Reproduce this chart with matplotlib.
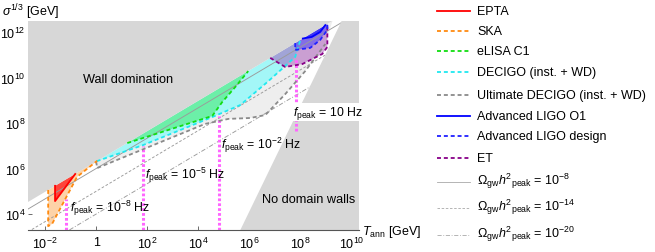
import numpy as np
import matplotlib
matplotlib.use('Agg')
import matplotlib.pyplot as plt
from matplotlib.patches import Polygon

plt.rcParams['font.family'] = ['Liberation Sans', 'DejaVu Sans']
plt.rcParams['mathtext.fontset'] = 'custom'
plt.rcParams['mathtext.rm'] = 'Liberation Sans'
plt.rcParams['mathtext.it'] = 'Liberation Sans:italic'
plt.rcParams['mathtext.bf'] = 'Liberation Sans:bold'

# all values are log10: T_ann [GeV] and sigma^(1/3) [GeV]
x_lim = [-2.67, 10.3]
y_lim = [3.3, 12.48]
wall_slope = 2 / 3
wall_c = 6.31
nodw_t = [5.65, 9.62]          # no-domain-wall edge at bottom and top of plot

epta_t = [-1.61, -1.61, -0.82]
epta_s = [5.24, 4.57, 5.76]
ska_t = [-1.88, -1.88, -1.73, -0.75, 0.04]
ska_s = [5.06, 3.47, 3.56, 5.63, 6.34]
elisa_t = [1.22, 4.55, 4.94, 5.45, 5.96]
elisa_s = [7.12, 8.31, 8.92, 9.58, 10.28]
decigo_t = [0.02, 1.84, 4.55, 5.65, 6.71, 7.80, 8.00]
decigo_s = [6.32, 7.03, 8.26, 8.79, 9.80, 10.90, 11.64]
udecigo_t = [0.0, 0.04, 4.27, 5.18, 6.04, 6.63, 7.41, 8.20, 8.98, 9.26]
udecigo_s = [6.31, 6.02, 7.96, 8.18, 8.22, 8.35, 9.27, 10.29, 11.47, 12.48]
ligo_o1_t = [8.10, 8.45, 8.78, 8.98]
ligo_o1_s = [11.71, 11.78, 12.00, 12.30]
ligo_des_t = [7.80, 7.80, 8.39, 8.78, 9.06, 9.06]
ligo_des_s = [11.51, 11.21, 11.30, 11.65, 12.09, 12.35]
et_t = [6.82, 7.41, 8.08, 8.86, 9.06, 9.06]
et_s = [10.86, 10.46, 10.59, 11.03, 11.34, 12.35]

omega_c = [6.0, 5.0, 4.0]      # lines of constant Omega h^2 (slope 2/3)

fpeak_t = [-1.18, 1.82, 4.82, 7.82]
fpeak_lo = [3.3, 3.3, 3.3, 7.65]
fpeak_hi = [4.66, 6.99, 8.31, 10.85]
fpeak_labels = [r'$f_{\rm peak}$ = 10$^{-8}$ Hz', r'$f_{\rm peak}$ = 10$^{-5}$ Hz',
                r'$f_{\rm peak}$ = 10$^{-2}$ Hz', r'$f_{\rm peak}$ = 10 Hz']
fpeak_text_t = [-1.04, 1.92, 4.90, 7.73]
fpeak_text_s = [4.31, 5.76, 7.08, 8.48]

xticks = [-2, 0, 2, 4, 6, 8, 10]
yticks = [4, 6, 8, 10, 12]

legend_labels = ['EPTA', 'SKA', 'eLISA C1', 'DECIGO (inst. + WD)',
                 'Ultimate DECIGO (inst. + WD)', 'Advanced LIGO O1',
                 'Advanced LIGO design', 'ET',
                 r'$\Omega_{\rm gw}h^2{}_{\rm peak}$ = 10$^{-8}$',
                 r'$\Omega_{\rm gw}h^2{}_{\rm peak}$ = 10$^{-14}$',
                 r'$\Omega_{\rm gw}h^2{}_{\rm peak}$ = 10$^{-20}$']

dash = (0, (2.2, 1.6))
regions = [
    # t, s, fill, alpha, edge, style, points on edge line
    (udecigo_t, udecigo_s, '#eeeeee', 1.0, '#8a8a8a', dash, -1),
    (decigo_t, decigo_s, '#a3f7f7', 1.0, '#20e8f0', dash, None),
    (elisa_t, elisa_s, '#5fee95', 0.8, '#10dd10', dash, None),
    (ska_t, ska_s, '#fdd3a8', 1.0, '#ff8a10', dash, None),
    (epta_t, epta_s, '#ff2020', 0.8, '#ff0000', '-', None),
    (et_t, et_s, '#a040b0', 0.45, '#880088', dash, None),
    (ligo_des_t, ligo_des_s, '#3030ff', 0.45, '#2020ff', dash, None),
    (ligo_o1_t, ligo_o1_s, '#1010ff', 0.6, '#0000ff', '-', None),
]

fig = plt.figure(figsize=(6.55, 2.53), dpi=100)
ax = fig.add_axes([28 / 655, 22 / 253, 331 / 655, 209 / 253])
ax.set_xlim(10 ** x_lim[0], 10 ** x_lim[1])
ax.set_ylim(10 ** y_lim[0], 10 ** y_lim[1])
ax.set_xscale('log')
ax.set_yscale('log')

gray = '#d7d7d7'
# wall domination region
t_top = (y_lim[1] - wall_c) / wall_slope
wall_pts = [(x_lim[0], wall_slope * x_lim[0] + wall_c), (t_top, y_lim[1]), (x_lim[0], y_lim[1])]
ax.add_patch(Polygon([(10 ** a, 10 ** b) for a, b in wall_pts], closed=True,
                     fc=gray, ec='none', zorder=4))
nodw_pts = [(nodw_t[0], y_lim[0]), (nodw_t[1], y_lim[1]), (x_lim[1], y_lim[1]), (x_lim[1], y_lim[0])]
ax.add_patch(Polygon([(10 ** a, 10 ** b) for a, b in nodw_pts], closed=True,
                     fc=gray, ec='none', zorder=4))

for t, s, fc, al, ec, ls, n in regions:
    pts = [(10 ** a, 10 ** b) for a, b in zip(t, s)]
    ax.add_patch(Polygon(pts, closed=True, fc=fc, alpha=al, ec='none', zorder=2))
    ax.plot([p[0] for p in pts[:n]], [p[1] for p in pts[:n]], color=ec, lw=1.3,
            ls=ls, zorder=5)

omega_styles = ['-', (0, (3, 2)), (0, (5, 2, 1, 2))]
tt = np.array(x_lim)
for c, st in zip(omega_c, omega_styles):
    ax.plot(10 ** tt, 10 ** (wall_slope * tt + c), color='#9a9a9a', lw=0.65,
            ls=st, zorder=3)

for t, lo, hi in zip(fpeak_t, fpeak_lo, fpeak_hi):
    ax.plot([10 ** t, 10 ** t], [10 ** lo, 10 ** hi], color='#ff66ff', lw=2.2,
            ls=(0, (0.9, 0.7)), zorder=4.5, solid_capstyle='butt')

for lab, t, s in zip(fpeak_labels, fpeak_text_t, fpeak_text_s):
    bb = dict(fc='white', ec='none', pad=0.5) if t > 7 else None
    ax.text(10 ** t, 10 ** s, lab, fontsize=8.8, ha='left', va='center',
            zorder=6, bbox=bb)

ax.text(10 ** -0.51, 10 ** 9.93, 'Wall domination', fontsize=9.2, ha='left',
        va='center', zorder=6)
ax.text(10 ** 6.51, 10 ** 4.66, 'No domain walls', fontsize=9.2, ha='left',
        va='center', zorder=6)

ax.set_xticks([10.0 ** v for v in xticks])
ax.set_xticklabels(['1' if v == 0 else r'10$^{%d}$' % v for v in xticks])
ax.set_yticks([10.0 ** v for v in yticks])
ax.set_yticklabels([r'10$^{%d}$' % v for v in yticks])
ax.minorticks_off()
ax.tick_params(direction='in', length=3, width=0.6, color='#555555',
               labelsize=9, pad=4)
ax.tick_params(axis='y', pad=2)
for side in ['top', 'right', 'left']:
    ax.spines[side].set_visible(False)
ax.spines['bottom'].set_color('#555555')
ax.spines['bottom'].set_linewidth(0.8)
ax.spines['bottom'].set_zorder(7)

fig.text(2 / 655, 1 - 12 / 253, r'$\sigma^{1/3}$ [GeV]', fontsize=9,
         ha='left', va='center')
fig.text(362 / 655, 1 - 232 / 253, r'$T_{\rm ann}$ [GeV]', fontsize=9,
         ha='left', va='center')

# legend
lax = fig.add_axes([0, 0, 1, 1])
lax.set_xlim(0, 655)
lax.set_ylim(253, 0)
lax.axis('off')
leg_y = [12, 32, 52, 73, 96, 117, 137, 159, 183, 209, 236]
leg_colors = ['#ff0000', '#ff8a10', '#10dd10', '#20e8f0', '#8a8a8a', '#0000ff',
              '#2020ff', '#880088', '#a8a8a8', '#a8a8a8', '#a8a8a8']
leg_styles = ['-', dash, dash, dash, dash, '-', dash, dash] + omega_styles
for i, (lab, y) in enumerate(zip(legend_labels, leg_y)):
    lw = 0.6 if i >= 8 else 1.3
    lax.plot([437, 470], [y, y], color=leg_colors[i], ls=leg_styles[i], lw=lw)
    ty = y - 2 if i >= 8 else y
    lax.text(477, ty, lab, fontsize=9, ha='left', va='center')

fig.savefig('out.png', dpi=100)
